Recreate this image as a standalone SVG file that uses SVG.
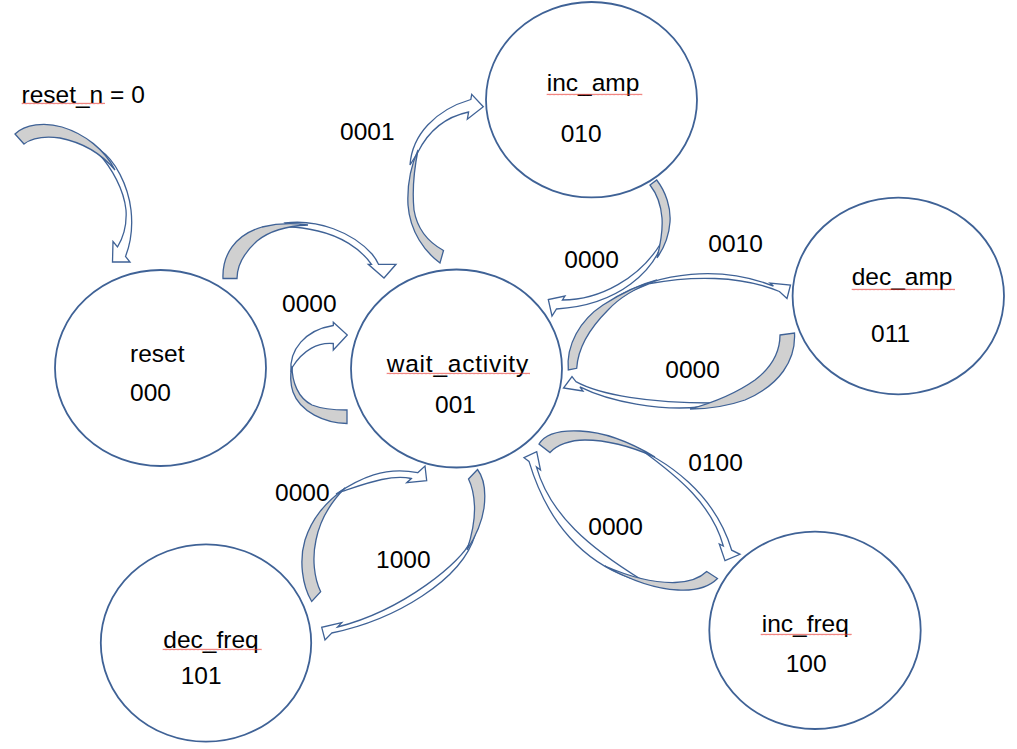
<svg xmlns="http://www.w3.org/2000/svg" width="1017" height="749" viewBox="0 0 1017 749">
<defs>
<style>
.node{fill:#fff;stroke:#3f6296;stroke-width:1.8}
.band{fill:#fff;stroke:#3f6296;stroke-width:1.3;stroke-linejoin:miter}
.back{fill:#d0d0d0;stroke:#3f6296;stroke-width:1.3;stroke-linejoin:miter}
text{font-family:"Liberation Sans",Arial,sans-serif;font-size:24.5px;fill:#000}
.sq{fill:url(#sq)}
</style>
<pattern id="sq" x="0" y="0" width="4" height="3" patternUnits="userSpaceOnUse"><path d="M0,2.2 L1,0.8 L2,2.2 L3,0.8 L4,2.2" fill="none" stroke="#e8302a" stroke-width="0.6"/></pattern>
</defs>
<rect width="1017" height="749" fill="#fff"/>

<g id="label-reset-n">
<text x="21.5" y="103">reset_n = 0</text>
<rect class="sq" x="21.7" y="102" width="83.3" height="3"/>
</g>

<g id="node-reset">
<ellipse class="node" cx="160.5" cy="368" rx="105.5" ry="98"/>
<text x="130" y="361.7">reset</text>
<text x="130" y="401">000</text>
</g>

<g id="node-wait-activity">
<ellipse class="node" cx="456.5" cy="368.5" rx="105.5" ry="99"/>
<text x="386.7" y="371.7" textLength="141.5" lengthAdjust="spacing">wait_activity</text>
<rect class="sq" x="386.7" y="372" width="143.3" height="3"/>
<text x="435" y="413.3">001</text>
</g>

<g id="node-inc-amp">
<ellipse class="node" cx="591.5" cy="99.7" rx="105.5" ry="97.7"/>
<text x="546.7" y="91">inc_amp</text>
<rect class="sq" x="546.7" y="93" width="95.6" height="3"/>
<text x="560.7" y="141.7">010</text>
</g>

<g id="node-dec-amp">
<ellipse class="node" cx="898.3" cy="296" rx="105.7" ry="98.3"/>
<text x="851.7" y="285">dec_amp</text>
<rect class="sq" x="851.7" y="288" width="103.3" height="3"/>
<text x="871" y="341.7">011</text>
</g>

<g id="node-dec-freq">
<ellipse class="node" cx="206" cy="643" rx="105.2" ry="98.7"/>
<text x="163.3" y="648.3">dec_freq</text>
<rect class="sq" x="162.7" y="648" width="99" height="3"/>
<text x="180.7" y="684.3">101</text>
</g>

<g id="node-inc-freq">
<ellipse class="node" cx="815" cy="630.3" rx="105.7" ry="98.7"/>
<text x="761.7" y="632.3">inc_freq</text>
<rect class="sq" x="760.7" y="633" width="91" height="3"/>
<text x="785.7" y="671.7">100</text>
</g>

<g id="connectors">
<g id="arrow-resetn-reset">
<path class="band" d="M100,150 C115,160 128,185 131,210 C133,228 130,245 125.5,256.5 L130,262 L112.5,262 L113,241.5 L117.5,247 C123,238 127,225 126,210 C124,190 112,168 98,153 Z"/>
<path class="back" d="M15,134 C25,124 45,122 62,127 C85,134 105,150 115,170 C100,152 80,142 60,138 C45,136 32,138 24,144 Z"/>
</g>
<g id="arrow-reset-wait">
<path class="band" d="M285,223 C318,219 352,232 372,254 C375,257.5 377,261 378.5,264.3 L396,264.3 L384,278 L368.3,264.3 L371.5,264.3 C360,248 340,236 318,231 C305,228 295,227 290,227 Z"/>
<path class="back" d="M223,278.5 C222,255 235,235 262,227 C278,223 295,223 308,225 C285,226 268,232 257,241 C246,251 237,263 237,278.5 Z"/>
</g>
<g id="arrow-wait-self">
<path class="band" d="M291,372 C289,350 305,330 333.3,325.5 L333.3,322.3 L347.3,335 L333.3,350 L333.3,343.5 C318,342 303,350 292.5,367 Z"/>
<path class="back" d="M347,410 L347,423.5 C325,423 300,412 293,392 C290,383 290,375 292,366 C292,382 298,398 312,405 C322,409 335,410 347,410 Z"/>
</g>
<g id="arrow-wait-incamp">
<path class="band" d="M410,165 C412,135 435,110 470.8,99.5 L471.7,94.3 L483.3,106.7 L467.3,119.3 L468.6,112 C445,117 428,132 418,152 Z"/>
<path class="back" d="M440,263 C425,252 410,232 408,205 C407,185 410,168 418,150 C414,170 412,190 414,210 C417,228 428,242 443.5,250.5 Z"/>
</g>
<g id="arrow-incamp-wait">
<path class="band" d="M664,238 C655,270 620,305 556.5,309 L552,316 L548.3,299.5 L565,296 L562.4,300 C600,300 640,278 661,243 Z"/>
<path class="back" d="M650,185 L656.7,180 C666,192 671,208 670,222 C669,236 664,248 657,258 C660,246 663,232 662,218 C661,205 657,194 650,185 Z"/>
</g>
<g id="arrow-wait-decamp">
<path class="band" d="M615,298 C660,272 720,265 773.4,286.1 L770,283 L790.5,285 L787,298.5 L779.4,291.5 C740,275 690,276 650,283.5 Z"/>
<path class="back" d="M568.3,370 C566,345 580,320 603,305 C620,294 638,285 657,280 C638,287 620,297 608,310 C592,326 578,346 576.7,368.3 Z"/>
</g>
<g id="arrow-decamp-wait">
<path class="band" d="M700,407 C660,411 610,402 579.9,386.9 L583,391 L563.5,388 L572,376.5 L575.9,381.6 C600,395 650,403 712,403 Z"/>
<path class="back" d="M780,335 L794.5,333 C796,360 780,385 745,400 C728,406 710,409 690,409 C712,403 735,394 755,380 C772,367 780,352 780,335 Z"/>
</g>
<g id="arrow-wait-incfreq">
<path class="band" d="M620,441 C670,460 715,495 731.7,550.2 L740,554.3 L725,560.7 L719.3,544 L723.4,546.1 C712,505 680,478 640,449 Z"/>
<path class="back" d="M539,444 C545,434 560,430 580,431 C605,432 630,442 655,457 C630,446 605,440 585,440 C570,440 557,445 550,452.5 Z"/>
</g>
<g id="arrow-incfreq-wait">
<path class="band" d="M630,578 C585,562 548,525 529,461.4 L524,457.7 L536.7,451.7 L540.5,470 L536.4,466.9 C550,515 590,548 642,580 Z"/>
<path class="back" d="M706.7,571.5 L717.5,578.5 C708,588 695,591 678,590 C655,589 630,580 605,566 C630,577 655,583 675,582.5 C690,582 700,578 706.7,571.5 Z"/>
</g>
<g id="arrow-wait-decfreq">
<path class="band" d="M470,542 C463,560 405,610 337.5,627 L341.7,622.7 L321.7,627.3 L325,640 L331.7,633 C395,620 462,580 475,535 Z"/>
<path class="back" d="M468.5,479 L477.5,469.5 C484,478 486,492 484,508 C482,522 476,536 467,550 C472,535 475,520 474.5,506 C474,495 472,486 468.5,479 Z"/>
</g>
<g id="arrow-decfreq-wait">
<path class="band" d="M336,494 C360,478 385,466 417.7,472.7 L425,466 L426.7,480.7 L406.7,482.7 L411.3,478.5 C390,474 365,484 340,492 Z"/>
<path class="back" d="M311.7,601.5 C302,585 299,560 305,540 C312,518 325,503 345,488 C330,503 320,520 316,540 C312,558 314,578 320.7,591.7 Z"/>
</g>
</g>

<g id="labels">
<text x="340" y="140">0001</text>
<text x="282" y="311.7">0000</text>
<text x="564.3" y="267.7">0000</text>
<text x="708.3" y="252.3">0010</text>
<text x="665.3" y="378.3">0000</text>
<text x="275" y="500.7">0000</text>
<text x="376" y="568.3">1000</text>
<text x="688.3" y="471">0100</text>
<text x="588.3" y="535">0000</text>
</g>
</svg>
